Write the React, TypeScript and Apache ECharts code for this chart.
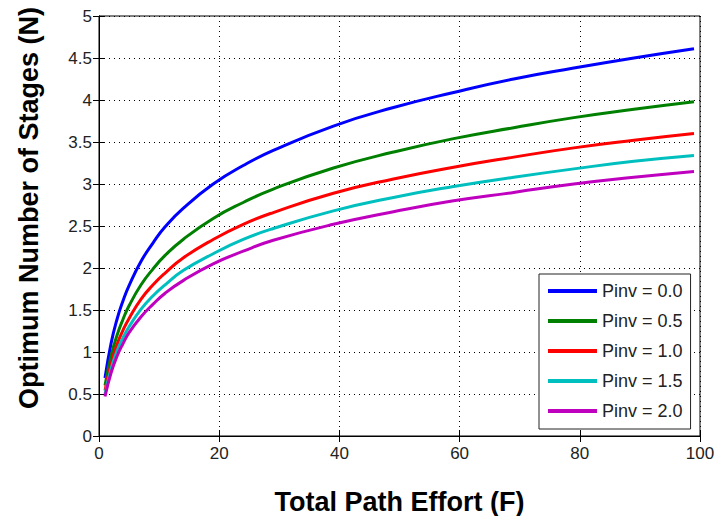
import React, { useEffect, useRef } from "react";
import * as echarts from "echarts";

const effort = [1, 2, 3, 4, 5, 7, 9, 11, 14, 19, 24, 29, 39, 49, 59, 69, 79, 89, 99];
const pinv00 = [0.69, 1.10, 1.39, 1.61, 1.79, 2.08, 2.30, 2.49, 2.71, 3.00, 3.22, 3.40, 3.69, 3.91, 4.09, 4.25, 4.38, 4.50, 4.61];
const pinv05 = [0.60, 0.95, 1.20, 1.39, 1.55, 1.80, 1.99, 2.15, 2.34, 2.59, 2.78, 2.94, 3.19, 3.38, 3.54, 3.67, 3.79, 3.89, 3.98];
const pinv10 = [0.54, 0.86, 1.09, 1.26, 1.40, 1.63, 1.80, 1.94, 2.12, 2.34, 2.52, 2.66, 2.89, 3.06, 3.20, 3.32, 3.43, 3.52, 3.60];
const pinv15 = [0.50, 0.80, 1.01, 1.17, 1.30, 1.51, 1.67, 1.80, 1.97, 2.17, 2.34, 2.47, 2.68, 2.84, 2.97, 3.08, 3.18, 3.27, 3.34];
const pinv20 = [0.47, 0.75, 0.95, 1.10, 1.23, 1.42, 1.57, 1.70, 1.85, 2.05, 2.20, 2.33, 2.52, 2.67, 2.80, 2.90, 3.00, 3.08, 3.15];

const seriesNames = ["Pinv = 0.0", "Pinv = 0.5", "Pinv = 1.0", "Pinv = 1.5", "Pinv = 2.0"];
const seriesValues = [pinv00, pinv05, pinv10, pinv15, pinv20];
const seriesColors = ["#0000ff", "#008000", "#ff0000", "#00bfbf", "#bf00bf"];
const xTitle = "Total Path Effort (F)";
const yTitle = "Optimum Number of Stages (N)";

const FONT = "'Liberation Sans', Arial, Helvetica, sans-serif";

export default function App() {
  const ref = useRef<HTMLDivElement>(null);
  useEffect(() => {
    if (!ref.current) return;
    const chart = echarts.init(ref.current, undefined, { renderer: "svg" });
    const gridLine = { show: true, lineStyle: { color: "#000", type: [1, 4] as any, width: 1 } };
    const tickStyle = { show: true, inside: true, length: 6, lineStyle: { color: "#000" } };
    chart.setOption({
      animation: false,
      backgroundColor: "#fff",
      grid: {
        left: 99, top: 16, right: 17, bottom: 80,
        outerBoundsMode: "none",
        containLabel: false,
        show: true, borderColor: "#000", borderWidth: 1, backgroundColor: "transparent",
      },
      legend: {
        orient: "vertical",
        left: 539,
        top: 274,
        padding: [8, 8, 9, 9],
        itemWidth: 49,
        itemHeight: 18,
        itemGap: 12,
        icon: "path://M0,0H49V4H0Z",
        backgroundColor: "#fff",
        borderColor: "#222",
        borderWidth: 1,
        borderRadius: 0,
        textStyle: { fontFamily: FONT, fontSize: 18, color: "#222" },
        data: seriesNames,
      },
      graphic: [
        {
          type: "text",
          x: 29,
          y: 208,
          rotation: Math.PI / 2,
          style: {
            text: yTitle,
            fontFamily: FONT, fontSize: 27, fontWeight: "bold", fill: "#000",
            align: "center", verticalAlign: "middle",
          },
        },
      ],
      xAxis: [
        {
          type: "value",
          min: 0,
          max: 100,
          interval: 20,
          name: xTitle,
          nameLocation: "middle",
          nameGap: 52,
          nameTextStyle: { fontFamily: FONT, fontSize: 27, fontWeight: "bold", color: "#000" },
          axisLine: { show: true, lineStyle: { color: "#000" } },
          axisTick: tickStyle,
          axisLabel: { fontFamily: FONT, fontSize: 17, color: "#222", margin: 9 },
          splitLine: gridLine,
        },
        {
          type: "value",
          position: "top",
          min: 0,
          max: 100,
          interval: 20,
          axisLine: { show: true, lineStyle: { color: "#000" } },
          axisTick: tickStyle,
          axisLabel: { show: false },
          splitLine: { show: false },
        },
      ],
      yAxis: [
        {
          type: "value",
          min: 0,
          max: 5,
          interval: 0.5,
          axisLine: { show: true, lineStyle: { color: "#000" } },
          axisTick: tickStyle,
          axisLabel: { fontFamily: FONT, fontSize: 17, color: "#222", margin: 7 },
          splitLine: gridLine,
        },
        {
          type: "value",
          position: "right",
          min: 0,
          max: 5,
          interval: 0.5,
          axisLine: { show: true, lineStyle: { color: "#000" } },
          axisTick: tickStyle,
          axisLabel: { show: false },
          splitLine: { show: false },
        },
      ],
      series: seriesNames.map((name, i) => ({
        name,
        type: "line",
        xAxisIndex: 0,
        yAxisIndex: 0,
        smooth: true,
        symbol: "none",
        showSymbol: false,
        color: seriesColors[i],
        itemStyle: { color: seriesColors[i] },
        lineStyle: { width: 3, color: seriesColors[i] },
        data: effort.map((f, j) => [f, seriesValues[i][j]]),
      })),
    });
    return () => chart.dispose();
  }, []);
  return (
    <div
      ref={ref}
      style={{ position: "fixed", left: 0, top: 0, width: 717, height: 516, background: "#fff" }}
    />
  );
}
